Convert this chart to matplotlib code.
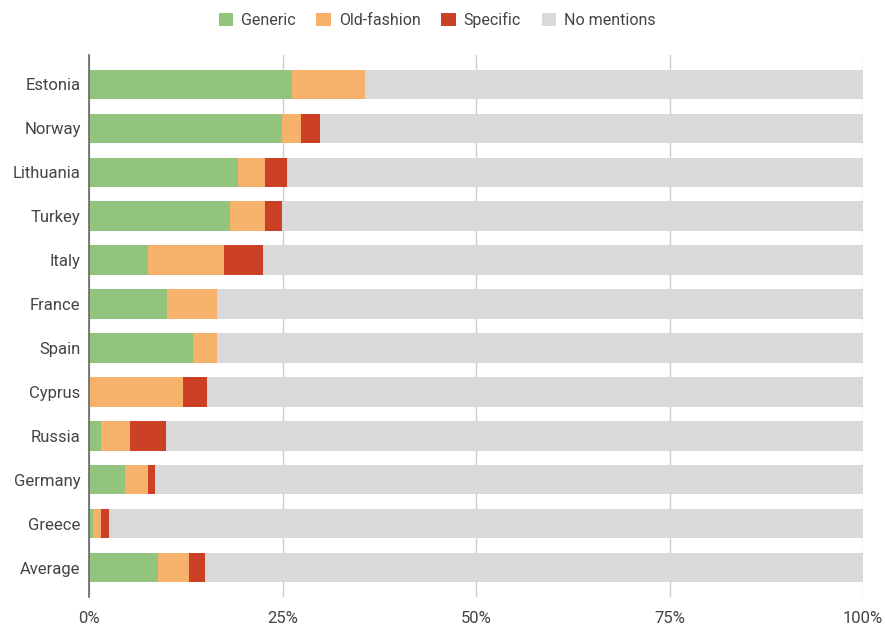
import matplotlib
matplotlib.use("Agg")
import matplotlib.pyplot as plt
from matplotlib.patches import Patch
import numpy as np

plt.rcParams['font.family'] = ['Roboto', 'DejaVu Sans']

countries = ["Estonia", "Norway", "Lithuania", "Turkey", "Italy", "France",
             "Spain", "Cyprus", "Russia", "Germany", "Greece", "Average"]
generic = [26.2, 24.9, 19.3, 18.2, 7.6, 10.1, 13.4, 0.0, 1.6, 4.7, 0.5, 8.9]
old_fashion = [9.4, 2.5, 3.5, 4.5, 9.8, 6.5, 3.2, 12.1, 3.7, 2.9, 1.1, 4.0]
specific = [0.0, 2.5, 2.8, 2.2, 5.1, 0.0, 0.0, 3.1, 4.6, 0.9, 1.0, 2.1]
no_mentions = [100 - g - o - s for g, o, s in zip(generic, old_fashion, specific)]

series = [("Generic", generic, "#93c47d"),
          ("Old-fashion", old_fashion, "#f6b26b"),
          ("Specific", specific, "#cc4125"),
          ("No mentions", no_mentions, "#d9d9d9")]

fig = plt.figure(figsize=(8.85, 6.27), dpi=100)
ax = fig.add_axes([89/885, 1 - 597/627, (863 - 89)/885, (597 - 55)/627])

y = np.arange(len(countries))
left = np.zeros(len(countries))
for name, vals, color in series:
    vals = np.array(vals, dtype=float)
    ax.barh(y, vals, left=left, height=0.66, color=color, label=name, zorder=2)
    left += vals

ax.set_ylim(len(countries) - 1 + 0.66, -0.66)
ax.set_xlim(0, 100)
ax.set_yticks(y)
ax.set_yticklabels(countries)
ax.set_xticks([0, 25, 50, 75, 100])
ax.set_xticklabels(["0%", "25%", "50%", "75%", "100%"])
ax.tick_params(axis='both', length=0, labelsize=12, colors="#444444")
ax.tick_params(axis='y', pad=6)
ax.tick_params(axis='x', pad=10)
ax.grid(axis='x', color="#cccccc", linewidth=1, zorder=0)
for s in ["top", "right", "bottom"]:
    ax.spines[s].set_visible(False)
ax.spines["left"].set_color("#666666")
ax.spines["left"].set_linewidth(1.2)
ax.spines["left"].set_zorder(3)

handles = [Patch(facecolor=c, edgecolor='none', label=n) for n, _, c in series]
fig.legend(handles=handles, loc='center', bbox_to_anchor=(0.494, 1 - 20/627), ncol=4,
           frameon=False, handlelength=0.9, handleheight=0.9, handletextpad=0.5,
           columnspacing=1.3, fontsize=11.5, labelcolor="#444444")

fig.savefig("out.png", dpi=100)
